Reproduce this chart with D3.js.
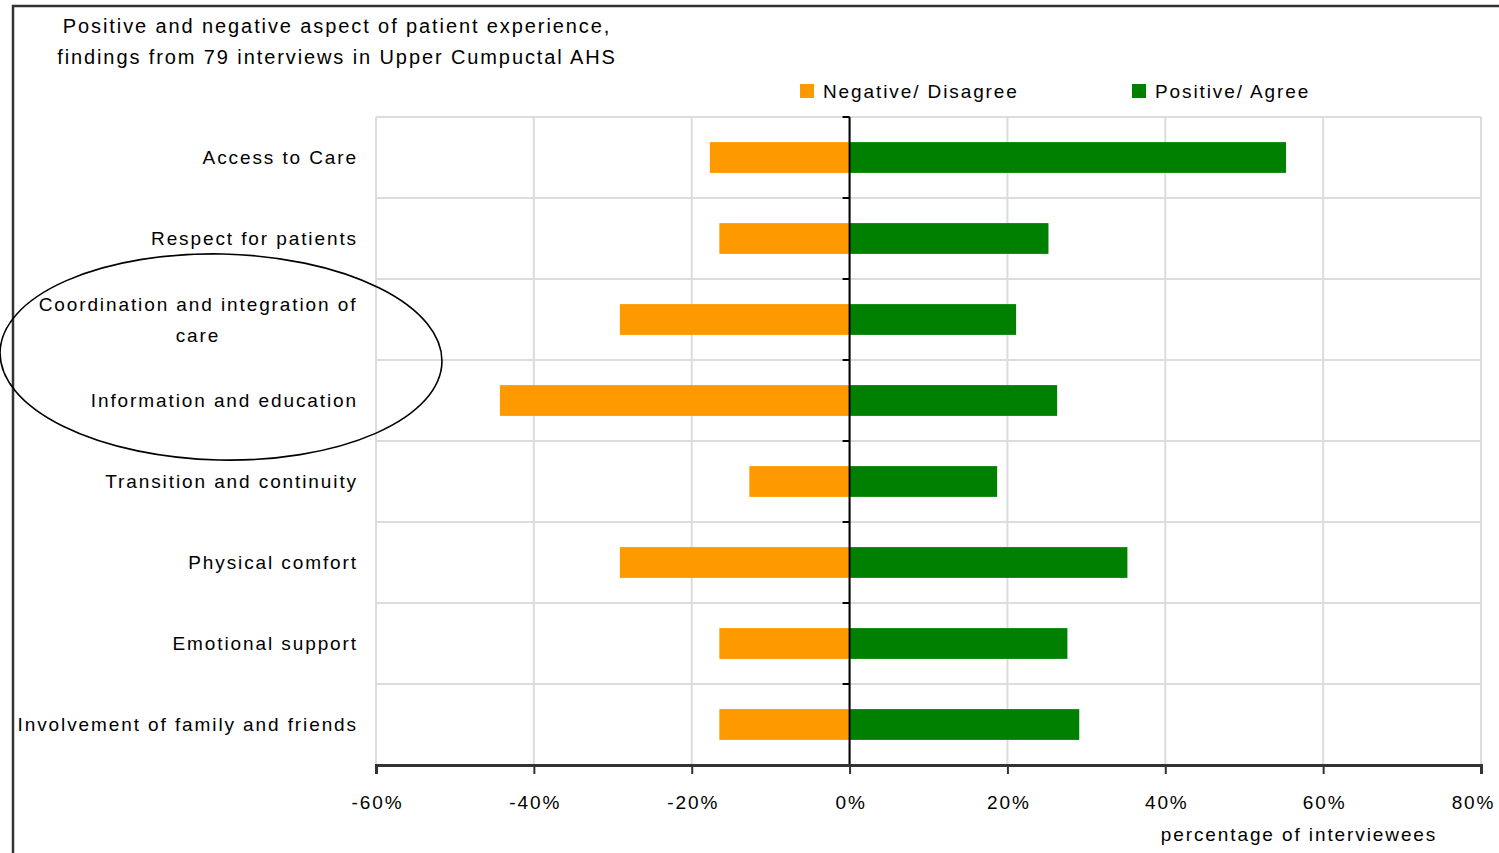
<!DOCTYPE html>
<html>
<head>
<meta charset="utf-8">
<script src="https://cdn.jsdelivr.net/npm/d3@7"></script>
<style>
  html, body { margin: 0; padding: 0; background: #fff; }
  svg { display: block; }
  text { font-family: "Liberation Sans", Arial, sans-serif; fill: #000; letter-spacing: 1.9px; }
</style>
</head>
<body>
<script>
// ---- data ----
const categories = [
  "Access to Care",
  "Respect for patients",
  "Coordination and integration of care",
  "Information and education",
  "Transition and continuity",
  "Physical comfort",
  "Emotional support",
  "Involvement of family and friends"
];
// label lines (as wrapped in the reference)
const categoryLines = [
  ["Access to Care"],
  ["Respect for patients"],
  ["Coordination and integration of", "care"],
  ["Information and education"],
  ["Transition and continuity"],
  ["Physical comfort"],
  ["Emotional support"],
  ["Involvement of family and friends"]
];
const negativeValues = [-17.7, -16.5, -29.1, -44.3, -12.7, -29.1, -16.5, -16.5];
const positiveValues = [55.3, 25.2, 21.1, 26.3, 18.7, 35.2, 27.6, 29.1];
const seriesNames = ["Negative/ Disagree", "Positive/ Agree"];
const seriesColors = ["#FF9900", "#008000"];
const xTicks = [-60, -40, -20, 0, 20, 40, 60, 80];
const titleLines = [
  "Positive and negative aspect of patient experience,",
  "findings from 79 interviews in Upper Cumpuctal AHS"
];
const xAxisTitle = "percentage of interviewees";

// ---- layout ----
const W = 1499, H = 853;
const plot = { left: 376, right: 1481, top: 117, bottom: 765 };

const svg = d3.select("body").append("svg")
  .attr("width", W).attr("height", H);

svg.append("rect").attr("width", W).attr("height", H).attr("fill", "#fff");

const x = d3.scaleLinear().domain([-60, 80]).range([plot.left, plot.right]);
const y = d3.scaleBand().domain(categories)
  .range([plot.top, plot.bottom])
  .paddingInner(0.62).paddingOuter(0.31);

// outer frame
svg.append("path")
  .attr("d", `M13,${H} L13,6 L${W},6`)
  .attr("fill", "none").attr("stroke", "#333").attr("stroke-width", 2.5);

// gridlines
const grid = svg.append("g");
grid.selectAll("line.v").data(xTicks).join("line")
  .attr("x1", d => x(d)).attr("x2", d => x(d))
  .attr("y1", plot.top).attr("y2", plot.bottom)
  .attr("stroke", "#dcdcdc").attr("stroke-width", 2);
const boundaries = categories.map(c => y(c) - y.step() * y.paddingInner() / 2);
boundaries.push(plot.bottom);
grid.selectAll("line.h").data(boundaries).join("line")
  .attr("x1", plot.left).attr("x2", plot.right)
  .attr("y1", d => d).attr("y2", d => d)
  .attr("stroke", "#dcdcdc").attr("stroke-width", 2);

// bars
const bars = svg.append("g");
bars.selectAll("rect.neg").data(categories).join("rect")
  .attr("x", (c, i) => x(negativeValues[i]))
  .attr("width", (c, i) => x(0) - x(negativeValues[i]))
  .attr("y", c => y(c)).attr("height", y.bandwidth())
  .attr("fill", seriesColors[0]);
bars.selectAll("rect.pos").data(categories).join("rect")
  .attr("x", x(0))
  .attr("width", (c, i) => x(positiveValues[i]) - x(0))
  .attr("y", c => y(c)).attr("height", y.bandwidth())
  .attr("fill", seriesColors[1]);

// zero (category) axis
svg.append("line")
  .attr("x1", x(0)).attr("x2", x(0))
  .attr("y1", plot.top).attr("y2", plot.bottom)
  .attr("stroke", "#000").attr("stroke-width", 2);
svg.selectAll("line.ztick").data(boundaries).join("line")
  .attr("x1", x(0) - 7).attr("x2", x(0))
  .attr("y1", d => d).attr("y2", d => d)
  .attr("stroke", "#000").attr("stroke-width", 2);

// x axis
const xAxis = d3.axisBottom(x).tickValues(xTicks)
  .tickFormat(d => d + "%").tickSize(9).tickPadding(22);
const gx = svg.append("g").attr("transform", `translate(0,${plot.bottom})`).call(xAxis);
gx.select(".domain").attr("stroke", "#333").attr("stroke-width", 3);
gx.selectAll(".tick line").attr("stroke", "#333").attr("stroke-width", 2);
gx.selectAll(".tick text")
  .attr("font-family", "Liberation Sans, Arial, sans-serif")
  .attr("font-size", 19).attr("fill", "#000")
  .attr("dx", d => d === xTicks[xTicks.length - 1] ? -8 : 1);

svg.append("text").attr("x", 1299).attr("y", 841)
  .attr("text-anchor", "middle").attr("font-size", 19)
  .text(xAxisTitle);

// category labels
const labelG = svg.append("g");
categories.forEach((c, i) => {
  const lines = categoryLines[i];
  const cy = y(c) + y.bandwidth() / 2;
  const lh = 31;
  const t = labelG.append("text")
    .attr("font-size", 19)
    .attr("text-anchor", lines.length > 1 ? "middle" : "end");
  lines.forEach((ln, j) => {
    t.append("tspan")
      .attr("x", lines.length > 1 ? 198 : 358)
      .attr("y", cy + (j - (lines.length - 1) / 2) * lh)
      .attr("dy", "0.35em")
      .text(ln);
  });
});

// title
const tt = svg.append("text").attr("font-size", 20).attr("text-anchor", "middle");
titleLines.forEach((ln, j) => {
  tt.append("tspan").attr("x", 337).attr("y", 33 + j * 31).text(ln);
});

// legend
const legendX = [800, 1132];
const lg = svg.append("g");
seriesNames.forEach((s, i) => {
  lg.append("rect").attr("x", legendX[i]).attr("y", 84)
    .attr("width", 14).attr("height", 14).attr("fill", seriesColors[i]);
  lg.append("text").attr("x", legendX[i] + 23).attr("y", 98)
    .attr("font-size", 19).text(s);
});

// annotation ellipse
svg.append("ellipse")
  .attr("cx", 221).attr("cy", 357).attr("rx", 221).attr("ry", 103)
  .attr("transform", "rotate(1.3 221 357)")
  .attr("fill", "none").attr("stroke", "#000").attr("stroke-width", 1.6);
</script>
</body>
</html>
